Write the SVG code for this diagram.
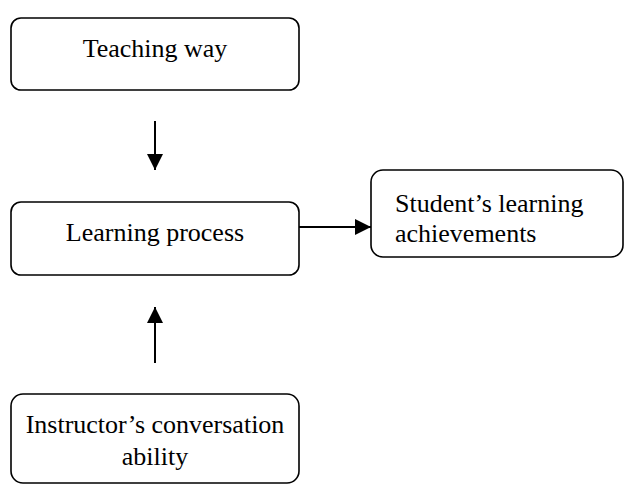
<svg xmlns="http://www.w3.org/2000/svg" width="625" height="485" viewBox="0 0 625 485">
<style>
.box{fill:#fff;stroke:#000;stroke-width:1.6}
.t{font-family:"Liberation Serif","Times New Roman",serif;font-size:26px;fill:#000}
.c{text-anchor:middle}
.conn line{stroke:#000;stroke-width:2}
</style>
<defs>
<marker id="ah" markerUnits="userSpaceOnUse" markerWidth="16" markerHeight="16" refX="16" refY="8" orient="auto">
<path d="M0,0 L16,8 L0,16 Z" fill="#000"/>
</marker>
</defs>
<rect width="625" height="485" fill="#fff"/>
<g id="teaching">
<rect class="box" x="11" y="18" width="288" height="72" rx="10"/>
<text class="t c" x="155" y="57">Teaching way</text>
</g>
<g id="learning">
<rect class="box" x="11" y="202" width="288" height="73" rx="10"/>
<text class="t c" x="155" y="241">Learning process</text>
</g>
<g id="achievements">
<rect class="box" x="371" y="170" width="252" height="87" rx="12"/>
<text class="t" x="395" y="212">Student’s learning</text>
<text class="t" x="395" y="242">achievements</text>
</g>
<g id="instructor">
<rect class="box" x="11" y="394" width="288" height="89" rx="12"/>
<text class="t c" x="155" y="433">Instructor’s conversation</text>
<text class="t c" x="155" y="465">ability</text>
</g>
<g id="connectors" class="conn">
<line x1="155" y1="121" x2="155" y2="170" marker-end="url(#ah)"/>
<line x1="299" y1="227" x2="371" y2="227" marker-end="url(#ah)"/>
<line x1="155" y1="363" x2="155" y2="307" marker-end="url(#ah)"/>
</g>
</svg>
